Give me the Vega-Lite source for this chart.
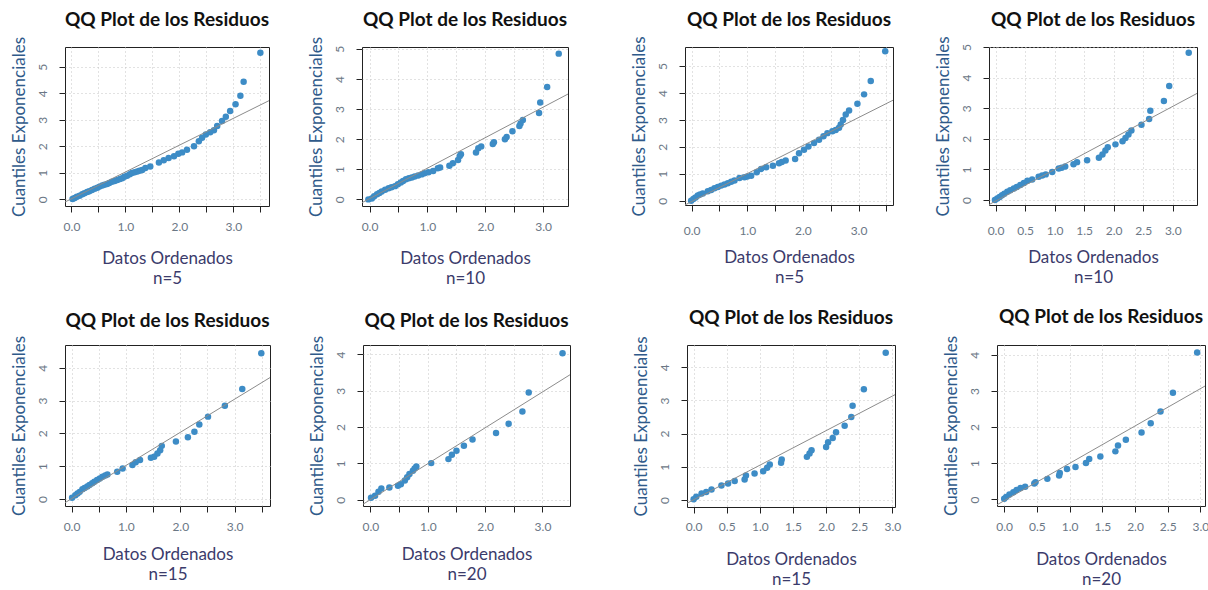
{
"$schema": "https://vega.github.io/schema/vega-lite/v6.json",
"padding": {"left": 9, "top": 10, "right": 0, "bottom": 0},
"background": "white",
"datasets": {
"p1": [{"x":3.5,"y":5.52},{"x":3.19,"y":4.43},{"x":3.13,"y":3.9},{"x":3.04,"y":3.58},{"x":2.94,"y":3.33},{"x":2.86,"y":3.11},{"x":2.79,"y":2.95},{"x":2.7,"y":2.76},{"x":2.64,"y":2.6},{"x":2.57,"y":2.53},{"x":2.49,"y":2.44},{"x":2.42,"y":2.32},{"x":2.36,"y":2.19},{"x":2.27,"y":2.0},{"x":2.14,"y":1.87},{"x":2.05,"y":1.77},{"x":1.98,"y":1.72},{"x":1.9,"y":1.62},{"x":1.8,"y":1.56},{"x":1.71,"y":1.47},{"x":1.62,"y":1.39},{"x":1.46,"y":1.24},{"x":1.37,"y":1.18},{"x":1.31,"y":1.11},{"x":1.26,"y":1.08},{"x":1.22,"y":1.05},{"x":1.17,"y":1.02},{"x":1.12,"y":0.99},{"x":1.08,"y":0.95},{"x":1.03,"y":0.89},{"x":0.98,"y":0.85},{"x":0.94,"y":0.8},{"x":0.9,"y":0.77},{"x":0.85,"y":0.73},{"x":0.8,"y":0.69},{"x":0.75,"y":0.66},{"x":0.7,"y":0.62},{"x":0.66,"y":0.58},{"x":0.61,"y":0.55},{"x":0.57,"y":0.52},{"x":0.52,"y":0.48},{"x":0.48,"y":0.44},{"x":0.43,"y":0.4},{"x":0.38,"y":0.35},{"x":0.33,"y":0.31},{"x":0.29,"y":0.28},{"x":0.24,"y":0.23},{"x":0.2,"y":0.19},{"x":0.15,"y":0.14},{"x":0.1,"y":0.1},{"x":0.06,"y":0.05},{"x":0.02,"y":0.01}],
"p2": [{"x":3.27,"y":4.84},{"x":3.07,"y":3.73},{"x":2.95,"y":3.22},{"x":2.93,"y":2.87},{"x":2.65,"y":2.64},{"x":2.61,"y":2.52},{"x":2.59,"y":2.44},{"x":2.47,"y":2.26},{"x":2.37,"y":2.07},{"x":2.34,"y":2.0},{"x":2.15,"y":1.9},{"x":2.13,"y":1.84},{"x":1.93,"y":1.76},{"x":1.88,"y":1.7},{"x":1.84,"y":1.56},{"x":1.58,"y":1.5},{"x":1.56,"y":1.44},{"x":1.53,"y":1.31},{"x":1.44,"y":1.2},{"x":1.38,"y":1.12},{"x":1.22,"y":1.06},{"x":1.18,"y":1.03},{"x":1.1,"y":0.94},{"x":1.02,"y":0.9},{"x":0.95,"y":0.87},{"x":0.9,"y":0.83},{"x":0.84,"y":0.79},{"x":0.78,"y":0.76},{"x":0.73,"y":0.73},{"x":0.68,"y":0.7},{"x":0.63,"y":0.67},{"x":0.58,"y":0.61},{"x":0.54,"y":0.56},{"x":0.49,"y":0.5},{"x":0.44,"y":0.44},{"x":0.38,"y":0.4},{"x":0.33,"y":0.37},{"x":0.27,"y":0.32},{"x":0.21,"y":0.26},{"x":0.17,"y":0.21},{"x":0.13,"y":0.17},{"x":0.08,"y":0.1},{"x":0.04,"y":0.03},{"x":-0.02,"y":0.0}],
"p3": [{"x":3.48,"y":5.55},{"x":3.22,"y":4.45},{"x":3.1,"y":3.95},{"x":2.98,"y":3.6},{"x":2.83,"y":3.35},{"x":2.77,"y":3.2},{"x":2.72,"y":3.0},{"x":2.68,"y":2.83},{"x":2.65,"y":2.71},{"x":2.59,"y":2.63},{"x":2.53,"y":2.58},{"x":2.44,"y":2.51},{"x":2.37,"y":2.39},{"x":2.29,"y":2.26},{"x":2.2,"y":2.14},{"x":2.1,"y":2.01},{"x":2.02,"y":1.89},{"x":1.93,"y":1.76},{"x":1.86,"y":1.55},{"x":1.69,"y":1.49},{"x":1.62,"y":1.44},{"x":1.57,"y":1.39},{"x":1.46,"y":1.3},{"x":1.34,"y":1.24},{"x":1.25,"y":1.18},{"x":1.17,"y":1.06},{"x":1.07,"y":0.93},{"x":1.0,"y":0.9},{"x":0.95,"y":0.87},{"x":0.86,"y":0.84},{"x":0.77,"y":0.75},{"x":0.71,"y":0.7},{"x":0.65,"y":0.65},{"x":0.59,"y":0.6},{"x":0.53,"y":0.56},{"x":0.47,"y":0.51},{"x":0.41,"y":0.46},{"x":0.35,"y":0.4},{"x":0.29,"y":0.35},{"x":0.2,"y":0.27},{"x":0.15,"y":0.23},{"x":0.11,"y":0.19},{"x":0.07,"y":0.12},{"x":0.03,"y":0.06},{"x":-0.01,"y":0.0}],
"p4": [{"x":3.27,"y":4.81},{"x":2.94,"y":3.73},{"x":2.85,"y":3.24},{"x":2.62,"y":2.92},{"x":2.6,"y":2.65},{"x":2.47,"y":2.46},{"x":2.3,"y":2.27},{"x":2.25,"y":2.14},{"x":2.2,"y":2.03},{"x":2.15,"y":1.92},{"x":2.03,"y":1.82},{"x":1.9,"y":1.73},{"x":1.86,"y":1.62},{"x":1.81,"y":1.49},{"x":1.75,"y":1.38},{"x":1.55,"y":1.3},{"x":1.38,"y":1.24},{"x":1.32,"y":1.17},{"x":1.18,"y":1.1},{"x":1.12,"y":1.06},{"x":1.07,"y":1.03},{"x":0.96,"y":0.92},{"x":0.85,"y":0.84},{"x":0.79,"y":0.8},{"x":0.73,"y":0.76},{"x":0.62,"y":0.67},{"x":0.54,"y":0.63},{"x":0.48,"y":0.56},{"x":0.42,"y":0.49},{"x":0.36,"y":0.43},{"x":0.31,"y":0.38},{"x":0.25,"y":0.32},{"x":0.2,"y":0.27},{"x":0.15,"y":0.21},{"x":0.11,"y":0.16},{"x":0.07,"y":0.1},{"x":0.03,"y":0.05},{"x":-0.01,"y":0.0}],
"p5": [{"x":3.49,"y":4.44},{"x":3.14,"y":3.35},{"x":2.82,"y":2.84},{"x":2.51,"y":2.51},{"x":2.35,"y":2.27},{"x":2.26,"y":2.05},{"x":2.14,"y":1.88},{"x":1.92,"y":1.75},{"x":1.66,"y":1.62},{"x":1.63,"y":1.49},{"x":1.58,"y":1.39},{"x":1.52,"y":1.29},{"x":1.46,"y":1.26},{"x":1.26,"y":1.19},{"x":1.18,"y":1.12},{"x":1.12,"y":1.04},{"x":0.94,"y":0.93},{"x":0.84,"y":0.83},{"x":0.66,"y":0.75},{"x":0.62,"y":0.72},{"x":0.57,"y":0.68},{"x":0.52,"y":0.63},{"x":0.47,"y":0.58},{"x":0.42,"y":0.53},{"x":0.38,"y":0.48},{"x":0.33,"y":0.43},{"x":0.29,"y":0.38},{"x":0.24,"y":0.34},{"x":0.2,"y":0.3},{"x":0.15,"y":0.22},{"x":0.11,"y":0.17},{"x":0.07,"y":0.12},{"x":0.01,"y":0.04}],
"p6": [{"x":3.35,"y":4.03},{"x":2.76,"y":2.95},{"x":2.65,"y":2.43},{"x":2.41,"y":2.09},{"x":2.19,"y":1.84},{"x":1.78,"y":1.66},{"x":1.63,"y":1.49},{"x":1.5,"y":1.35},{"x":1.42,"y":1.24},{"x":1.36,"y":1.12},{"x":1.06,"y":1.01},{"x":0.8,"y":0.92},{"x":0.77,"y":0.86},{"x":0.74,"y":0.8},{"x":0.68,"y":0.71},{"x":0.64,"y":0.62},{"x":0.6,"y":0.53},{"x":0.53,"y":0.43},{"x":0.48,"y":0.39},{"x":0.33,"y":0.34},{"x":0.19,"y":0.31},{"x":0.14,"y":0.22},{"x":0.08,"y":0.11},{"x":0.01,"y":0.06}],
"p7": [{"x":2.9,"y":4.44},{"x":2.57,"y":3.34},{"x":2.4,"y":2.84},{"x":2.38,"y":2.5},{"x":2.28,"y":2.24},{"x":2.15,"y":2.04},{"x":2.1,"y":1.87},{"x":2.03,"y":1.74},{"x":2.0,"y":1.6},{"x":1.78,"y":1.5},{"x":1.75,"y":1.4},{"x":1.71,"y":1.3},{"x":1.33,"y":1.22},{"x":1.32,"y":1.12},{"x":1.15,"y":1.07},{"x":1.11,"y":0.97},{"x":1.05,"y":0.87},{"x":0.92,"y":0.8},{"x":0.79,"y":0.74},{"x":0.77,"y":0.62},{"x":0.62,"y":0.57},{"x":0.52,"y":0.5},{"x":0.42,"y":0.44},{"x":0.27,"y":0.32},{"x":0.19,"y":0.24},{"x":0.12,"y":0.2},{"x":0.04,"y":0.1},{"x":0.0,"y":0.02}],
"p8": [{"x":2.95,"y":4.06},{"x":2.58,"y":2.95},{"x":2.39,"y":2.43},{"x":2.24,"y":2.11},{"x":2.1,"y":1.85},{"x":1.86,"y":1.65},{"x":1.74,"y":1.49},{"x":1.7,"y":1.33},{"x":1.47,"y":1.19},{"x":1.3,"y":1.12},{"x":1.25,"y":1.01},{"x":1.09,"y":0.9},{"x":0.96,"y":0.84},{"x":0.85,"y":0.73},{"x":0.84,"y":0.66},{"x":0.66,"y":0.57},{"x":0.48,"y":0.48},{"x":0.46,"y":0.44},{"x":0.32,"y":0.35},{"x":0.25,"y":0.32},{"x":0.19,"y":0.26},{"x":0.14,"y":0.2},{"x":0.08,"y":0.14},{"x":0.03,"y":0.07},{"x":0.0,"y":0.02}],
"l1": [{"x":-0.2,"y":-0.18},{"x":3.8,"y":3.86}],
"l2": [{"x":-0.2,"y":-0.18},{"x":3.6,"y":3.67}],
"l3": [{"x":-0.2,"y":-0.24},{"x":3.8,"y":3.92}],
"l4": [{"x":-0.2,"y":-0.24},{"x":3.6,"y":3.68}],
"l5": [{"x":-0.2,"y":-0.19},{"x":3.8,"y":3.85}],
"l6": [{"x":-0.2,"y":-0.19},{"x":3.6,"y":3.56}],
"l7": [{"x":-0.2,"y":-0.2},{"x":3.2,"y":3.34}],
"l8": [{"x":-0.2,"y":-0.24},{"x":3.2,"y":3.27}]
},
"vconcat": [
{"hconcat": [
 {"hconcat": [
  {"width": 204, "height": 159, "title": {"text": "QQ Plot de los Residuos", "offset": 6},
   "encoding": {"x": {"field": "x", "type": "quantitative", "scale": {"domain": [-0.12, 3.66], "nice": false, "zero": false}, "axis": {"values": [0,0.5,1,1.5,2,2.5,3,3.5], "labelExpr": "datum.value % 1 == 0 ? format(datum.value, '.1f') : ''", "title": ["Datos Ordenados", "n=5"], "titlePadding": 18}},
      "y": {"field": "y", "type": "quantitative", "scale": {"domain": [-0.25, 5.74], "nice": false, "zero": false}, "axis": {"values": [0,1,2,3,4,5], "title": "Cuantiles Exponenciales"}}},
   "layer": [
    {"data": {"name": "p1"}, "mark": {"type": "circle", "size": 42, "color": "#3d8cc6", "opacity": 1}},
    {"data": {"name": "l1"}, "mark": {"type": "line", "clip": true, "color": "#8c8c8c", "strokeWidth": 1}}
   ]},
  {"width": 206, "height": 159, "title": {"text": "QQ Plot de los Residuos", "offset": 6},
   "encoding": {"x": {"field": "x", "type": "quantitative", "scale": {"domain": [-0.13, 3.43], "nice": false, "zero": false}, "axis": {"values": [0,0.5,1,1.5,2,2.5,3], "labelExpr": "datum.value % 1 == 0 ? format(datum.value, '.1f') : ''", "title": ["Datos Ordenados", "n=10"], "titlePadding": 18}},
      "y": {"field": "y", "type": "quantitative", "scale": {"domain": [-0.22, 5.06], "nice": false, "zero": false}, "axis": {"values": [0,1,2,3,4,5], "title": "Cuantiles Exponenciales"}}},
   "layer": [
    {"data": {"name": "p2"}, "mark": {"type": "circle", "size": 42, "color": "#3d8cc6", "opacity": 1}},
    {"data": {"name": "l2"}, "mark": {"type": "line", "clip": true, "color": "#8c8c8c", "strokeWidth": 1}}
   ]}
 ], "spacing": 36},
 {"hconcat": [
  {"width": 208, "height": 158, "title": {"text": "QQ Plot de los Residuos", "offset": 6},
   "encoding": {"x": {"field": "x", "type": "quantitative", "scale": {"domain": [-0.12, 3.62], "nice": false, "zero": false}, "axis": {"values": [0,0.5,1,1.5,2,2.5,3,3.5], "labelExpr": "datum.value % 1 == 0 ? format(datum.value, '.1f') : ''", "title": ["Datos Ordenados", "n=5"], "labelPadding": 14, "titlePadding": 13}},
      "y": {"field": "y", "type": "quantitative", "scale": {"domain": [-0.16, 5.71], "nice": false, "zero": false}, "axis": {"values": [0,1,2,3,4,5], "title": "Cuantiles Exponenciales"}}},
   "layer": [
    {"data": {"name": "p3"}, "mark": {"type": "circle", "size": 42, "color": "#3d8cc6", "opacity": 1}},
    {"data": {"name": "l3"}, "mark": {"type": "line", "clip": true, "color": "#8c8c8c", "strokeWidth": 1}}
   ]},
  {"width": 208, "height": 158, "title": {"text": "QQ Plot de los Residuos", "offset": 6},
   "encoding": {"x": {"field": "x", "type": "quantitative", "scale": {"domain": [-0.11, 3.41], "nice": false, "zero": false}, "axis": {"values": [0,0.5,1,1.5,2,2.5,3], "format": ".1f", "title": ["Datos Ordenados", "n=10"], "labelPadding": 14, "titlePadding": 13}},
      "y": {"field": "y", "type": "quantitative", "scale": {"domain": [-0.16, 5.0], "nice": false, "zero": false}, "axis": {"values": [0,1,2,3,4,5], "title": "Cuantiles Exponenciales"}}},
   "layer": [
    {"data": {"name": "p4"}, "mark": {"type": "circle", "size": 42, "color": "#3d8cc6", "opacity": 1}},
    {"data": {"name": "l4"}, "mark": {"type": "line", "clip": true, "color": "#8c8c8c", "strokeWidth": 1}}
   ]}
 ], "spacing": 39}
], "spacing": 60},
{"hconcat": [
 {"hconcat": [
  {"width": 205, "height": 161, "title": {"text": "QQ Plot de los Residuos", "offset": 4},
   "encoding": {"x": {"field": "x", "type": "quantitative", "scale": {"domain": [-0.12, 3.65], "nice": false, "zero": false}, "axis": {"values": [0,0.5,1,1.5,2,2.5,3,3.5], "labelExpr": "datum.value % 1 == 0 ? format(datum.value, '.1f') : ''", "title": ["Datos Ordenados", "n=15"], "titlePadding": 14}},
      "y": {"field": "y", "type": "quantitative", "scale": {"domain": [-0.21, 4.69], "nice": false, "zero": false}, "axis": {"values": [0,1,2,3,4], "title": "Cuantiles Exponenciales"}}},
   "layer": [
    {"data": {"name": "p5"}, "mark": {"type": "circle", "size": 42, "color": "#3d8cc6", "opacity": 1}},
    {"data": {"name": "l5"}, "mark": {"type": "line", "clip": true, "color": "#8c8c8c", "strokeWidth": 1}}
   ]},
  {"width": 207, "height": 161, "title": {"text": "QQ Plot de los Residuos", "offset": 4},
   "encoding": {"x": {"field": "x", "type": "quantitative", "scale": {"domain": [-0.13, 3.48], "nice": false, "zero": false}, "axis": {"values": [0,0.5,1,1.5,2,2.5,3], "labelExpr": "datum.value % 1 == 0 ? format(datum.value, '.1f') : ''", "title": ["Datos Ordenados", "n=20"], "titlePadding": 14}},
      "y": {"field": "y", "type": "quantitative", "scale": {"domain": [-0.17, 4.26], "nice": false, "zero": false}, "axis": {"values": [0,1,2,3,4], "title": "Cuantiles Exponenciales"}}},
   "layer": [
    {"data": {"name": "p6"}, "mark": {"type": "circle", "size": 42, "color": "#3d8cc6", "opacity": 1}},
    {"data": {"name": "l6"}, "mark": {"type": "line", "clip": true, "color": "#8c8c8c", "strokeWidth": 1}}
   ]}
 ], "spacing": 36},
 {"hconcat": [
  {"width": 208, "height": 162, "title": {"text": "QQ Plot de los Residuos", "offset": 8},
   "encoding": {"x": {"field": "x", "type": "quantitative", "scale": {"domain": [-0.1, 3.04], "nice": false, "zero": false}, "axis": {"values": [0,0.5,1,1.5,2,2.5,3], "format": ".1f", "title": ["Datos Ordenados", "n=15"], "labelPadding": 8, "titlePadding": 19}},
      "y": {"field": "y", "type": "quantitative", "scale": {"domain": [-0.21, 4.67], "nice": false, "zero": false}, "axis": {"values": [0,1,2,3,4], "title": "Cuantiles Exponenciales"}}},
   "layer": [
    {"data": {"name": "p7"}, "mark": {"type": "circle", "size": 42, "color": "#3d8cc6", "opacity": 1}},
    {"data": {"name": "l7"}, "mark": {"type": "line", "clip": true, "color": "#8c8c8c", "strokeWidth": 1}}
   ]},
  {"width": 208, "height": 161, "title": {"text": "QQ Plot de los Residuos", "offset": 8},
   "encoding": {"x": {"field": "x", "type": "quantitative", "scale": {"domain": [-0.11, 3.07], "nice": false, "zero": false}, "axis": {"values": [0,0.5,1,1.5,2,2.5,3], "format": ".1f", "title": ["Datos Ordenados", "n=20"], "labelPadding": 9, "titlePadding": 19}},
      "y": {"field": "y", "type": "quantitative", "scale": {"domain": [-0.18, 4.27], "nice": false, "zero": false}, "axis": {"values": [0,1,2,3,4], "title": "Cuantiles Exponenciales"}}},
   "layer": [
    {"data": {"name": "p8"}, "mark": {"type": "circle", "size": 42, "color": "#3d8cc6", "opacity": 1}},
    {"data": {"name": "l8"}, "mark": {"type": "line", "clip": true, "color": "#8c8c8c", "strokeWidth": 1}}
   ]}
 ], "spacing": 39}
], "spacing": 60}
],
"spacing": 20,
"config": {
 "font": "Lato",
 "view": {"stroke": "#222222", "strokeWidth": 1},
 "title": {"fontSize": 19, "fontWeight": "bold", "color": "#111111", "offset": 6, "frame": "group", "anchor": "middle"},
 "axis": {"domain": false, "tickColor": "#222222", "tickSize": 6, "labelFontSize": 12, "labelColor": "#6b7785", "labelOverlap": false, "gridColor": "#c4c4c4", "gridDash": [1, 3], "titleFontWeight": "normal", "titleFontSize": 17},
 "axisX": {"labelPadding": 9, "titlePadding": 16, "titleColor": "#3b3b6b", "titleLineHeight": 20},
 "axisY": {"labelAngle": -90, "labelPadding": 10, "titlePadding": 8, "titleColor": "#2f5a8a"}
}
}
